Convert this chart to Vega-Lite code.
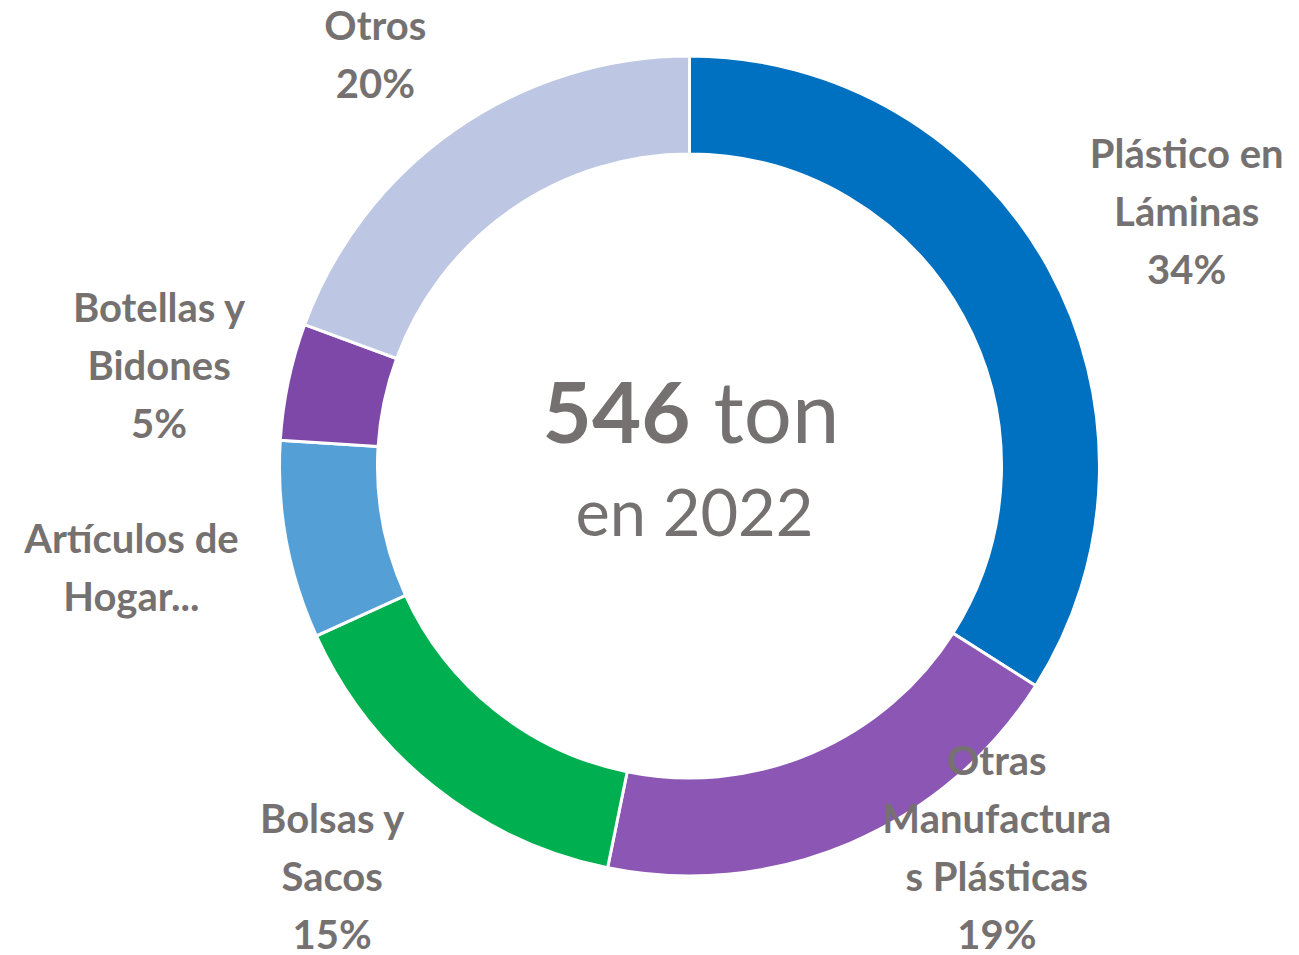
{
  "$schema": "https://vega.github.io/schema/vega-lite/v6.json",
  "width": 1219,
  "height": 932,
  "autosize": {"type": "none"},
  "padding": {"left": 80, "top": 0, "right": 0, "bottom": 23},
  "background": "white",
  "config": {"view": {"stroke": null}},
  "data": {
    "values": [
      {"idx": 1, "categoria": "Plástico en Láminas", "etiqueta": "Plástico en\nLáminas\n34%", "pct": 34.0},
      {"idx": 2, "categoria": "Otras Manufacturas Plásticas", "etiqueta": "Otras\nManufactura\ns Plásticas\n19%", "pct": 19.2},
      {"idx": 3, "categoria": "Bolsas y Sacos", "etiqueta": "Bolsas y\nSacos\n15%", "pct": 15.0},
      {"idx": 4, "categoria": "Artículos de Hogar", "etiqueta": "Artículos de\nHogar...", "pct": 7.8},
      {"idx": 5, "categoria": "Botellas y Bidones", "etiqueta": "Botellas y\nBidones\n5%", "pct": 4.6},
      {"idx": 6, "categoria": "Otros", "etiqueta": "Otros\n20%", "pct": 19.4}
    ]
  },
  "layer": [
    {
      "mark": {"type": "arc", "outerRadius": 410, "innerRadius": 312, "stroke": "white", "strokeWidth": 3},
      "encoding": {
        "theta": {"field": "pct", "type": "quantitative", "stack": true},
        "order": {"field": "idx", "type": "quantitative"},
        "color": {
          "field": "categoria",
          "type": "nominal",
          "sort": null,
          "legend": null,
          "scale": {
            "domain": ["Plástico en Láminas", "Otras Manufacturas Plásticas", "Bolsas y Sacos", "Artículos de Hogar", "Botellas y Bidones", "Otros"],
            "range": ["#0070C0", "#8B56B4", "#00B050", "#559FD7", "#7E48A9", "#BDC7E3"]
          }
        }
      }
    },
    {
      "mark": {"type": "text", "radius": 540, "dx": 24, "dy": -50, "font": "Lato", "fontWeight": "bold", "fontSize": 40, "lineBreak": "\n", "lineHeight": 58, "color": "#767171", "align": "center", "baseline": "middle"},
      "encoding": {
        "theta": {"field": "pct", "type": "quantitative", "stack": true},
        "order": {"field": "idx", "type": "quantitative"},
        "text": {"condition": {"test": "datum.idx == 1", "field": "etiqueta", "type": "nominal"}, "value": ""}
      }
    },
    {
      "mark": {"type": "text", "radius": 540, "dx": 96, "dy": -200, "font": "Lato", "fontWeight": "bold", "fontSize": 40, "lineBreak": "\n", "lineHeight": 58, "color": "#767171", "align": "center", "baseline": "middle"},
      "encoding": {
        "theta": {"field": "pct", "type": "quantitative", "stack": true},
        "order": {"field": "idx", "type": "quantitative"},
        "text": {"condition": {"test": "datum.idx == 2", "field": "etiqueta", "type": "nominal"}, "value": ""}
      }
    },
    {
      "mark": {"type": "text", "radius": 540, "dx": -21, "dy": -67, "font": "Lato", "fontWeight": "bold", "fontSize": 40, "lineBreak": "\n", "lineHeight": 58, "color": "#767171", "align": "center", "baseline": "middle"},
      "encoding": {
        "theta": {"field": "pct", "type": "quantitative", "stack": true},
        "order": {"field": "idx", "type": "quantitative"},
        "text": {"condition": {"test": "datum.idx == 3", "field": "etiqueta", "type": "nominal"}, "value": ""}
      }
    },
    {
      "mark": {"type": "text", "radius": 540, "dx": -27, "dy": -23, "font": "Lato", "fontWeight": "bold", "fontSize": 40, "lineBreak": "\n", "lineHeight": 58, "color": "#767171", "align": "center", "baseline": "middle"},
      "encoding": {
        "theta": {"field": "pct", "type": "quantitative", "stack": true},
        "order": {"field": "idx", "type": "quantitative"},
        "text": {"condition": {"test": "datum.idx == 4", "field": "etiqueta", "type": "nominal"}, "value": ""}
      }
    },
    {
      "mark": {"type": "text", "radius": 540, "dx": -2, "dy": -45, "font": "Lato", "fontWeight": "bold", "fontSize": 40, "lineBreak": "\n", "lineHeight": 58, "color": "#767171", "align": "center", "baseline": "middle"},
      "encoding": {
        "theta": {"field": "pct", "type": "quantitative", "stack": true},
        "order": {"field": "idx", "type": "quantitative"},
        "text": {"condition": {"test": "datum.idx == 5", "field": "etiqueta", "type": "nominal"}, "value": ""}
      }
    },
    {
      "mark": {"type": "text", "radius": 540, "dx": -5, "dy": 5, "font": "Lato", "fontWeight": "bold", "fontSize": 40, "lineBreak": "\n", "lineHeight": 58, "color": "#767171", "align": "center", "baseline": "middle"},
      "encoding": {
        "theta": {"field": "pct", "type": "quantitative", "stack": true},
        "order": {"field": "idx", "type": "quantitative"},
        "text": {"condition": {"test": "datum.idx == 6", "field": "etiqueta", "type": "nominal"}, "value": ""}
      }
    },
    {
      "data": {"values": [{"t": "546"}]},
      "mark": {"type": "text", "font": "Lato", "fontWeight": "bold", "fontSize": 85, "color": "#767171", "align": "right", "baseline": "alphabetic", "dx": 1, "dy": -23},
      "encoding": {"text": {"field": "t", "type": "nominal"}}
    },
    {
      "data": {"values": [{"t": "ton"}]},
      "mark": {"type": "text", "font": "Lato", "fontWeight": "normal", "fontSize": 85, "color": "#767171", "align": "left", "baseline": "alphabetic", "dx": 24, "dy": -23},
      "encoding": {"text": {"field": "t", "type": "nominal"}}
    },
    {
      "data": {"values": [{"t": "en 2022"}]},
      "mark": {"type": "text", "font": "Lato", "fontWeight": "normal", "fontSize": 65, "color": "#767171", "align": "center", "baseline": "alphabetic", "dx": 5, "dy": 70},
      "encoding": {"text": {"field": "t", "type": "nominal"}}
    }
  ]
}
